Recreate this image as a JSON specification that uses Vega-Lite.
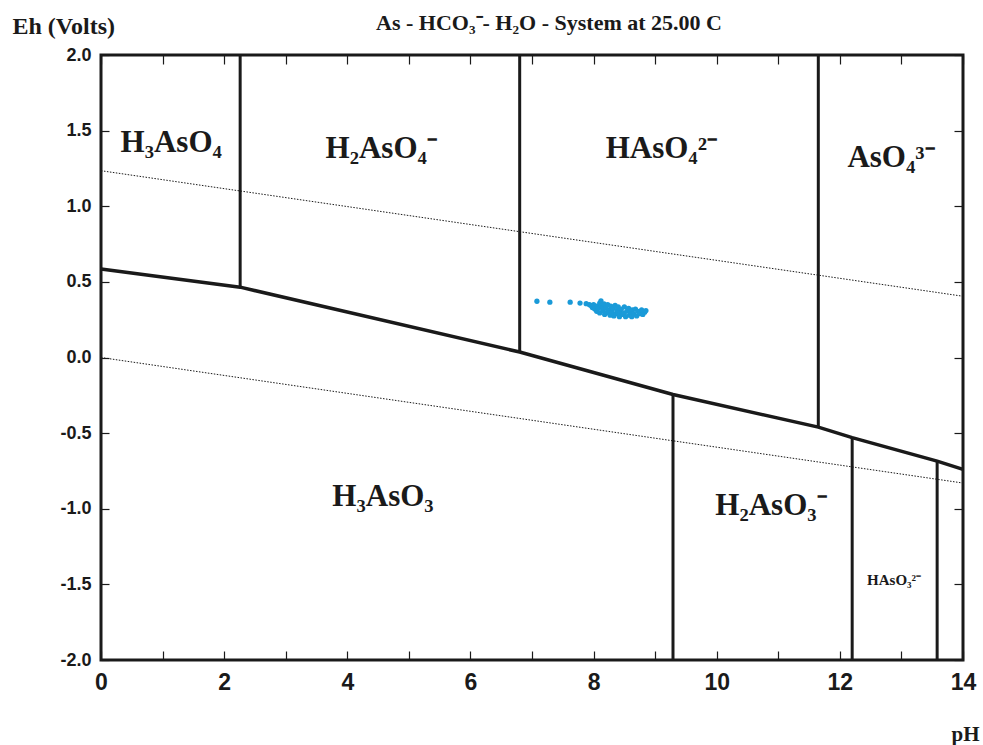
{
  "$schema": "https://vega.github.io/schema/vega-lite/v6.json",
  "width": 862,
  "height": 605,
  "autosize": {"type": "none"},
  "padding": {"left": 101, "top": 55, "right": 20, "bottom": 85},
  "background": "white",
  "config": {
    "view": {"stroke": "#1a1a1a", "strokeWidth": 3},
    "axis": {"domain": false, "grid": false, "tickColor": "#1a1a1a", "tickWidth": 1.2}
  },
  "title": {
    "text": "As - HCO₃⁻- H₂O - System at 25.00 C",
    "font": "Liberation Serif",
    "fontSize": 22,
    "fontWeight": "bold",
    "color": "#1a1a1a",
    "anchor": "middle",
    "dx": 17,
    "offset": -21
  },
  "resolve": {"axis": {"x": "independent", "y": "independent"}},
  "layer": [
    {
      "data": {"values": [
        {"pH": 0, "Eh": 0.585},
        {"pH": 2.26, "Eh": 0.465},
        {"pH": 6.8, "Eh": 0.036},
        {"pH": 9.29, "Eh": -0.245},
        {"pH": 11.65, "Eh": -0.46},
        {"pH": 12.2, "Eh": -0.53},
        {"pH": 13.58, "Eh": -0.685},
        {"pH": 14, "Eh": -0.74}
      ]},
      "mark": {"type": "line", "color": "#1a1a1a", "strokeWidth": 3.5},
      "encoding": {
        "x": {"field": "pH", "type": "quantitative", "scale": {"domain": [0, 14], "nice": false, "zero": false},
          "axis": {"orient": "bottom", "values": [0,1,2,3,4,5,6,7,8,9,10,11,12,13,14],
            "labelExpr": "datum.value % 2 === 0 ? datum.label : ''",
            "tickSize": -9, "labelPadding": 20, "labelFont": "Liberation Sans Narrow, Liberation Sans", "labelFontSize": 23, "labelFontWeight": "bold", "labelColor": "#1a1a1a", "labelFlush": false,
            "title": "pH", "titleFont": "Liberation Serif", "titleFontSize": 21, "titleFontWeight": "bold", "titleColor": "#1a1a1a",
            "titleX": 864, "titleY": 80, "titleAlign": "center", "titleBaseline": "alphabetic"}},
        "y": {"field": "Eh", "type": "quantitative", "scale": {"domain": [-2, 2], "nice": false, "zero": false},
          "axis": {"orient": "left", "values": [-2,-1.5,-1,-0.5,0,0.5,1,1.5,2], "format": ".1f",
            "labelExpr": "replace(datum.label, '\u2212', '-')",
            "tickSize": -8, "labelPadding": 18, "labelFont": "Liberation Sans Narrow, Liberation Sans", "labelFontSize": 18, "labelFontWeight": "bold", "labelColor": "#1a1a1a", "labelFlush": false,
            "title": "Eh (Volts)", "titleFont": "Liberation Serif", "titleFontSize": 24, "titleFontWeight": "bold", "titleColor": "#1a1a1a",
            "titleAngle": 0, "titleX": -89, "titleY": -22, "titleAlign": "left", "titleBaseline": "alphabetic"}}
      }
    },
    {
      "data": {"values": [
        {"pH": 2.26, "lo": 0.465, "hi": 2},
        {"pH": 6.8, "lo": 0.036, "hi": 2},
        {"pH": 11.65, "lo": -0.46, "hi": 2},
        {"pH": 9.29, "lo": -2, "hi": -0.245},
        {"pH": 12.2, "lo": -2, "hi": -0.53},
        {"pH": 13.58, "lo": -2, "hi": -0.685}
      ]},
      "mark": {"type": "rule", "color": "#1a1a1a", "strokeWidth": 3},
      "encoding": {
        "x": {"field": "pH", "type": "quantitative",
          "axis": {"orient": "top", "values": [0,1,2,3,4,5,6,7,8,9,10,11,12,13,14], "labels": false, "tickSize": -9, "title": null}},
        "y": {"field": "lo", "type": "quantitative",
          "axis": {"orient": "right", "values": [-2,-1.5,-1,-0.5,0,0.5,1,1.5,2], "labels": false, "tickSize": -9, "title": null}},
        "y2": {"field": "hi"}
      }
    },
    {
      "data": {"values": [
        {"w": "upper", "pH": 0, "Eh": 1.235},
        {"w": "upper", "pH": 14, "Eh": 0.405},
        {"w": "lower", "pH": 0, "Eh": 0.0},
        {"w": "lower", "pH": 14, "Eh": -0.83}
      ]},
      "mark": {"type": "line", "color": "#1a1a1a", "strokeWidth": 1, "strokeDash": [1.5, 1.5]},
      "encoding": {
        "x": {"field": "pH", "type": "quantitative", "axis": null},
        "y": {"field": "Eh", "type": "quantitative", "axis": null},
        "detail": {"field": "w"}
      }
    },
    {
      "data": {"values": [
        {"pH": 7.08, "Eh": 0.372}, {"pH": 7.29, "Eh": 0.366}, {"pH": 7.62, "Eh": 0.366}, {"pH": 7.78, "Eh": 0.36},
        {"pH": 7.88, "Eh": 0.356}, {"pH": 7.93, "Eh": 0.35}, {"pH": 7.95, "Eh": 0.345}, {"pH": 7.98, "Eh": 0.33},
        {"pH": 8.0, "Eh": 0.35}, {"pH": 8.02, "Eh": 0.32}, {"pH": 8.05, "Eh": 0.34}, {"pH": 8.05, "Eh": 0.305},
        {"pH": 8.08, "Eh": 0.325}, {"pH": 8.1, "Eh": 0.36}, {"pH": 8.1, "Eh": 0.295}, {"pH": 8.12, "Eh": 0.375},
        {"pH": 8.13, "Eh": 0.34}, {"pH": 8.15, "Eh": 0.31}, {"pH": 8.15, "Eh": 0.33}, {"pH": 8.17, "Eh": 0.355},
        {"pH": 8.18, "Eh": 0.285}, {"pH": 8.2, "Eh": 0.33}, {"pH": 8.22, "Eh": 0.3}, {"pH": 8.23, "Eh": 0.35},
        {"pH": 8.25, "Eh": 0.315}, {"pH": 8.25, "Eh": 0.295}, {"pH": 8.27, "Eh": 0.28}, {"pH": 8.28, "Eh": 0.34},
        {"pH": 8.3, "Eh": 0.3}, {"pH": 8.32, "Eh": 0.325}, {"pH": 8.33, "Eh": 0.275}, {"pH": 8.35, "Eh": 0.345},
        {"pH": 8.37, "Eh": 0.29}, {"pH": 8.38, "Eh": 0.31}, {"pH": 8.4, "Eh": 0.335}, {"pH": 8.4, "Eh": 0.29},
        {"pH": 8.42, "Eh": 0.27}, {"pH": 8.43, "Eh": 0.3}, {"pH": 8.45, "Eh": 0.32}, {"pH": 8.47, "Eh": 0.285},
        {"pH": 8.5, "Eh": 0.335}, {"pH": 8.5, "Eh": 0.295}, {"pH": 8.52, "Eh": 0.27}, {"pH": 8.55, "Eh": 0.31},
        {"pH": 8.57, "Eh": 0.325}, {"pH": 8.58, "Eh": 0.28}, {"pH": 8.6, "Eh": 0.3}, {"pH": 8.62, "Eh": 0.27},
        {"pH": 8.63, "Eh": 0.315}, {"pH": 8.65, "Eh": 0.29}, {"pH": 8.68, "Eh": 0.32}, {"pH": 8.7, "Eh": 0.275},
        {"pH": 8.72, "Eh": 0.305}, {"pH": 8.75, "Eh": 0.29}, {"pH": 8.78, "Eh": 0.315}, {"pH": 8.8, "Eh": 0.285},
        {"pH": 8.83, "Eh": 0.3}, {"pH": 8.85, "Eh": 0.31}
      ]},
      "mark": {"type": "circle", "color": "#1a9ad8", "size": 28, "opacity": 1},
      "encoding": {
        "x": {"field": "pH", "type": "quantitative", "axis": null},
        "y": {"field": "Eh", "type": "quantitative", "axis": null}
      }
    },
    {
      "data": {"values": [
        {"pH": 1.14, "Eh": 1.42, "species": "H₃AsO₄"},
        {"pH": 4.55, "Eh": 1.38, "species": "H₂AsO₄⁻"},
        {"pH": 9.1, "Eh": 1.38, "species": "HAsO₄²⁻"},
        {"pH": 12.83, "Eh": 1.32, "species": "AsO₄³⁻"},
        {"pH": 4.58, "Eh": -0.92, "species": "H₃AsO₃"},
        {"pH": 10.88, "Eh": -0.98, "species": "H₂AsO₃⁻"}
      ]},
      "mark": {"type": "text", "font": "Liberation Serif", "fontSize": 31, "fontWeight": "bold", "color": "#1a1a1a", "align": "center", "baseline": "middle"},
      "encoding": {
        "x": {"field": "pH", "type": "quantitative", "axis": null},
        "y": {"field": "Eh", "type": "quantitative", "axis": null},
        "text": {"field": "species"}
      }
    },
    {
      "data": {"values": [
        {"pH": 12.88, "Eh": -1.47, "species": "HAsO₃²⁻"}
      ]},
      "mark": {"type": "text", "font": "Liberation Serif", "fontSize": 15, "fontWeight": "bold", "color": "#1a1a1a", "align": "center", "baseline": "middle"},
      "encoding": {
        "x": {"field": "pH", "type": "quantitative", "axis": null},
        "y": {"field": "Eh", "type": "quantitative", "axis": null},
        "text": {"field": "species"}
      }
    }
  ]
}
